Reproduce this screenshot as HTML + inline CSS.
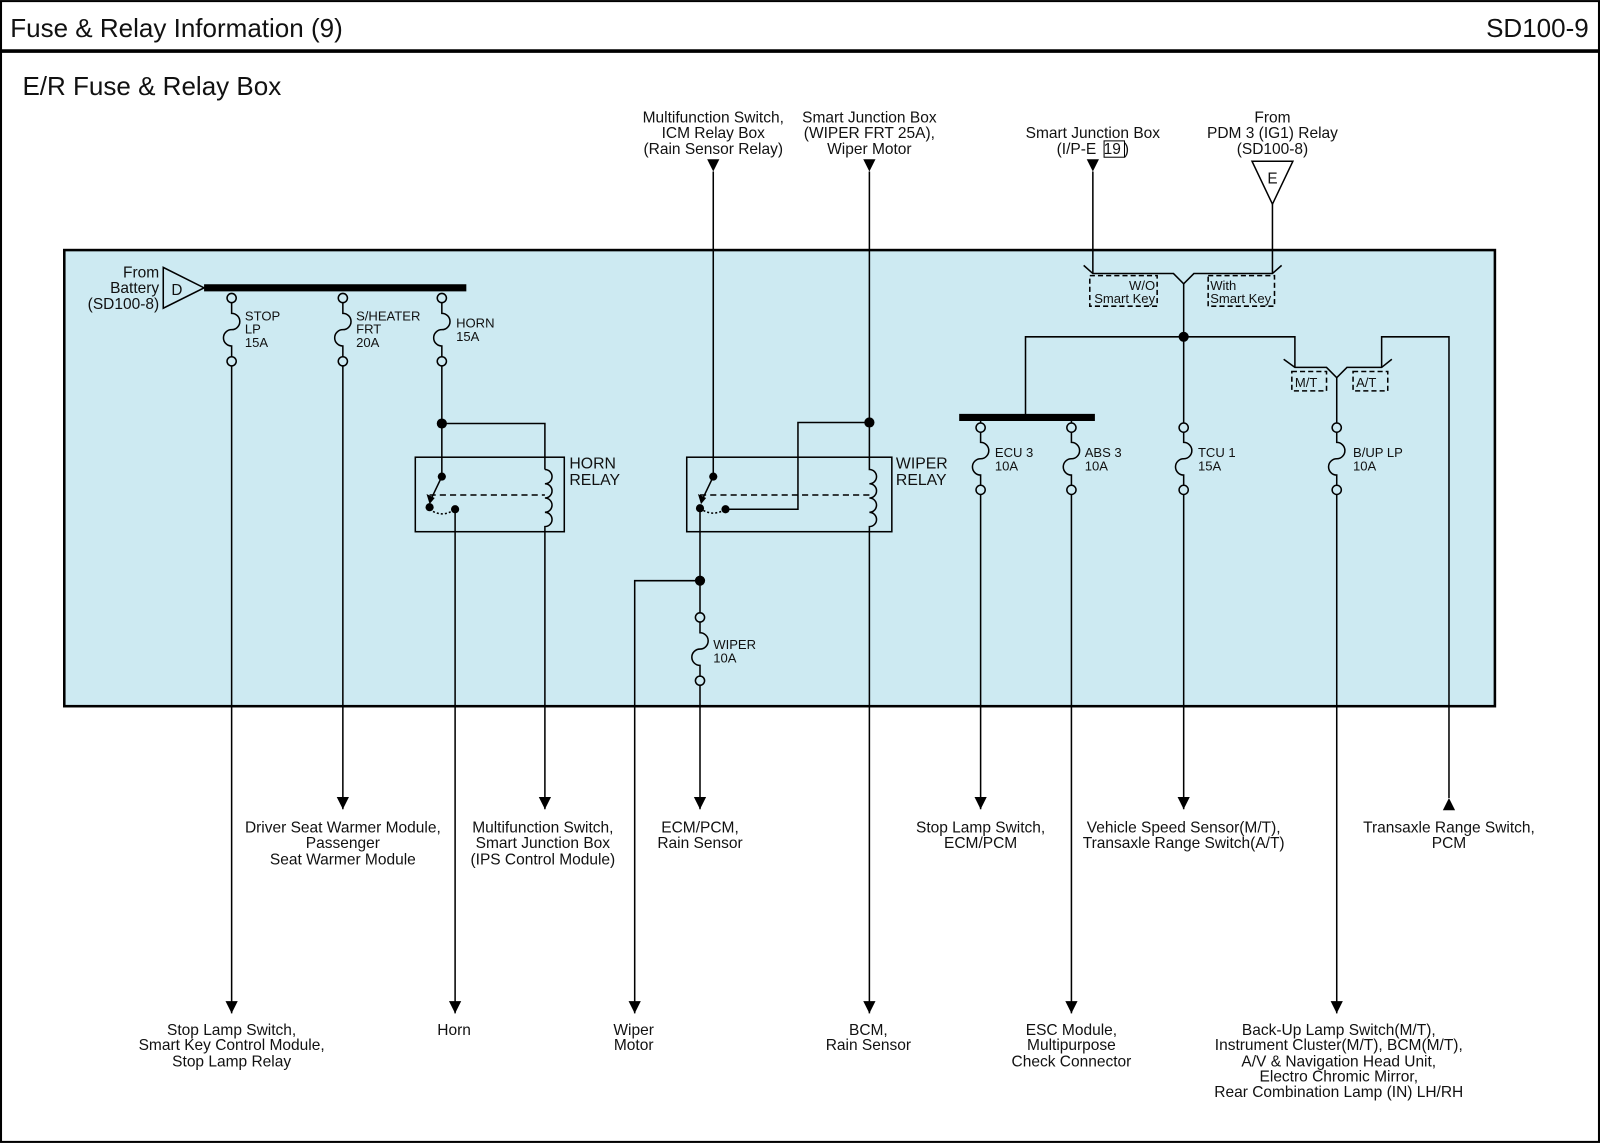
<!DOCTYPE html>
<html><head><meta charset="utf-8"><style>
html,body{margin:0;padding:0;background:#fff}
svg{display:block}
text{font-family:"Liberation Sans",Arial,sans-serif;fill:#111}
.l{font-size:15.2px}
.f{font-size:12.8px}
</style></head><body>
<svg width="1600" height="1143" viewBox="0 0 1568 1120" xmlns="http://www.w3.org/2000/svg">
<rect x="1" y="1" width="1566" height="1118" fill="#fff" stroke="#000" stroke-width="2"/>
<text x="10" y="36" style="font-size:25.5px">Fuse &amp; Relay Information (9)</text>
<text x="1557" y="36" text-anchor="end" style="font-size:25.5px">SD100-9</text>
<line x1="0" y1="50" x2="1568" y2="50" stroke="#000" stroke-width="3.5"/>
<text x="22" y="93" style="font-size:25.5px">E/R Fuse &amp; Relay Box</text>

<rect x="63" y="245" width="1402" height="447" fill="#cdeaf2" stroke="#000" stroke-width="2.5"/>

<g fill="none" stroke="#000" stroke-width="1.5">
<polygon points="160,262 160,302 200,282" fill="#cdeaf2"/>
<circle cx="227" cy="292" r="4.5"/><circle cx="227" cy="354" r="4.5"/>
<path d="M227,296.5 V307 a8,8 0 0 1 0,16 a8,8 0 0 0 0,16 V349.5"/>
<circle cx="336" cy="292" r="4.5"/><circle cx="336" cy="354" r="4.5"/>
<path d="M336,296.5 V307 a8,8 0 0 1 0,16 a8,8 0 0 0 0,16 V349.5"/>
<circle cx="433" cy="292" r="4.5"/><circle cx="433" cy="354" r="4.5"/>
<path d="M433,296.5 V307 a8,8 0 0 1 0,16 a8,8 0 0 0 0,16 V349.5"/>
<circle cx="686" cy="605" r="4.5"/><circle cx="686" cy="667" r="4.5"/>
<path d="M686,609.5 V620 a8,8 0 0 1 0,16 a8,8 0 0 0 0,16 V662.5"/>
<circle cx="961" cy="419" r="4.5"/><circle cx="961" cy="480" r="4.5"/>
<path d="M961,423.5 V433.5 a8,8 0 0 1 0,16 a8,8 0 0 0 0,16 V475.5"/>
<circle cx="1050" cy="419" r="4.5"/><circle cx="1050" cy="480" r="4.5"/>
<path d="M1050,423.5 V433.5 a8,8 0 0 1 0,16 a8,8 0 0 0 0,16 V475.5"/>
<circle cx="1160" cy="419" r="4.5"/><circle cx="1160" cy="480" r="4.5"/>
<path d="M1160,423.5 V433.5 a8,8 0 0 1 0,16 a8,8 0 0 0 0,16 V475.5"/>
<circle cx="1310" cy="419" r="4.5"/><circle cx="1310" cy="480" r="4.5"/>
<path d="M1310,423.5 V433.5 a8,8 0 0 1 0,16 a8,8 0 0 0 0,16 V475.5"/>

<line x1="227" y1="358.5" x2="227" y2="993"/>
<line x1="336" y1="358.5" x2="336" y2="793"/>
<path d="M433,358.5 V467 M433,415 H534 V460"/>
<rect x="407" y="448" width="146" height="73"/>
<path d="M534,460 a7,7 0 0 1 0,14 a7,7 0 0 1 0,14 a7,7 0 0 1 0,14 a7,7 0 0 1 0,14 V793"/>
<path d="M433,467 L422,490"/>
<line x1="421" y1="485" x2="534" y2="485" stroke-dasharray="6,4"/>
<path d="M421,499 Q433,508 446,499" stroke-dasharray="2,2"/>
<line x1="446" y1="499" x2="446" y2="993"/>
<line x1="699" y1="168" x2="699" y2="467"/>
<rect x="673" y="448" width="201" height="73"/>
<path d="M852,168 V460 a7,7 0 0 1 0,14 a7,7 0 0 1 0,14 a7,7 0 0 1 0,14 a7,7 0 0 1 0,14 V993"/>
<path d="M699,467 L688,490"/>
<line x1="686" y1="485" x2="852" y2="485" stroke-dasharray="6,4"/>
<path d="M686,498 Q698,507 711,499" stroke-dasharray="2,2"/>
<path d="M711,499 H782 V414 H852"/>
<path d="M686,498 V600.5 M686,671.5 V793 M686,569 H622 V993"/>
<path d="M1071,168 V268 M1062,260 L1071,268 H1150 L1160,278 L1170,268 H1247 L1256,260 M1247,200 V268"/>
<path d="M1160,278 V414.5 M1160,484.5 V793"/>
<path d="M1160,330 H1005 V409 M1160,330 H1269 V360 M1258,352 L1269,360 H1300 L1310,370 L1320,360 H1354 L1364,352 M1354,360 V330 H1420 V782"/>
<path d="M1310,370 V414.5 M1310,484.5 V993"/>
<path d="M961,409 V414.5 M961,484.5 V793 M1050,409 V414.5 M1050,484.5 V993"/>
<rect x="1068" y="270" width="66" height="30" stroke-dasharray="5,3"/>
<rect x="1184" y="270" width="65" height="30" stroke-dasharray="5,3"/>
<rect x="1266" y="364" width="34" height="19" stroke-dasharray="5,3"/>
<rect x="1326" y="364" width="34" height="19" stroke-dasharray="5,3"/>
<polygon points="1227,158 1267,158 1247,200" fill="#fff"/>
</g>
<line x1="200" y1="282" x2="457" y2="282" stroke="#000" stroke-width="7"/>
<line x1="940" y1="409" x2="1073" y2="409" stroke="#000" stroke-width="7"/>
<g fill="#000">
<circle cx="433" cy="415" r="5"/><circle cx="852" cy="414" r="5"/>
<circle cx="686" cy="569" r="5"/><circle cx="1160" cy="330" r="5"/>
<circle cx="433" cy="467" r="4"/><circle cx="421" cy="497" r="4"/><circle cx="446" cy="499" r="4"/>
<circle cx="699" cy="467" r="4"/><circle cx="686" cy="498" r="4"/><circle cx="711" cy="499" r="4"/>
<polygon points="418,484 421,494 426,488"/>
<polygon points="684,484 687,494 692,488"/>
<polygon points="693,156 705,156 699,168"/>
<polygon points="846,156 858,156 852,168"/>
<polygon points="1065,156 1077,156 1071,168"/>
<polygon points="330,781 342,781 336,793"/>
<polygon points="528,781 540,781 534,793"/>
<polygon points="680,781 692,781 686,793"/>
<polygon points="955,781 967,781 961,793"/>
<polygon points="1154,781 1166,781 1160,793"/>
<polygon points="1414,794 1426,794 1420,782"/>
<polygon points="221,981 233,981 227,993"/>
<polygon points="440,981 452,981 446,993"/>
<polygon points="616,981 628,981 622,993"/>
<polygon points="846,981 858,981 852,993"/>
<polygon points="1044,981 1056,981 1050,993"/>
<polygon points="1304,981 1316,981 1310,993"/>
</g>

<text x="168" y="289" style="font-size:15px">D</text>
<g class="l" text-anchor="end">
<text x="156" y="272">From</text><text x="156" y="287">Battery</text><text x="156" y="303">(SD100-8)</text>
</g>
<g class="f">
<text x="240" y="314">STOP</text><text x="240" y="327">LP</text><text x="240" y="340">15A</text>
<text x="349" y="314">S/HEATER</text><text x="349" y="327">FRT</text><text x="349" y="340">20A</text>
<text x="447" y="321">HORN</text><text x="447" y="334">15A</text>
<text x="699" y="636">WIPER</text><text x="699" y="649">10A</text>
<text x="975" y="448">ECU 3</text><text x="975" y="461">10A</text>
<text x="1063" y="448">ABS 3</text><text x="1063" y="461">10A</text>
<text x="1174" y="448">TCU 1</text><text x="1174" y="461">15A</text>
<text x="1326" y="448">B/UP LP</text><text x="1326" y="461">10A</text>
<text x="1132" y="284" text-anchor="end">W/O</text><text x="1132" y="297" text-anchor="end">Smart Key</text>
<text x="1186" y="284">With</text><text x="1186" y="297">Smart Key</text>
<text x="1269" y="379">M/T</text><text x="1329" y="379">A/T</text>
</g>
<g style="font-size:15.5px">
<text x="558" y="459">HORN</text><text x="558" y="475">RELAY</text>
<text x="878" y="459">WIPER</text><text x="878" y="475">RELAY</text>
</g>
<text x="1247" y="180" text-anchor="middle" style="font-size:15px">E</text>
<g class="l" text-anchor="middle">
<text x="699" y="120">Multifunction Switch,</text><text x="699" y="135">ICM Relay Box</text><text x="699" y="151">(Rain Sensor Relay)</text>
<text x="852" y="120">Smart Junction Box</text><text x="852" y="135">(WIPER FRT 25A),</text><text x="852" y="151">Wiper Motor</text>
<text x="1071" y="135">Smart Junction Box</text><text x="1071" y="151">(I/P-E <tspan dx="3">19</tspan><tspan dx="3">)</tspan></text>
<text x="1247" y="120">From</text><text x="1247" y="135">PDM 3 (IG1) Relay</text><text x="1247" y="151">(SD100-8)</text>

<text x="336" y="816">Driver Seat Warmer Module,</text><text x="336" y="831">Passenger</text><text x="336" y="847">Seat Warmer Module</text>
<text x="532" y="816">Multifunction Switch,</text><text x="532" y="831">Smart Junction Box</text><text x="532" y="847">(IPS Control Module)</text>
<text x="686" y="816">ECM/PCM,</text><text x="686" y="831">Rain Sensor</text>
<text x="961" y="816">Stop Lamp Switch,</text><text x="961" y="831">ECM/PCM</text>
<text x="1160" y="816">Vehicle Speed Sensor(M/T),</text><text x="1160" y="831">Transaxle Range Switch(A/T)</text>
<text x="1420" y="816">Transaxle Range Switch,</text><text x="1420" y="831">PCM</text>

<text x="227" y="1014">Stop Lamp Switch,</text><text x="227" y="1029">Smart Key Control Module,</text><text x="227" y="1045">Stop Lamp Relay</text>
<text x="445" y="1014">Horn</text>
<text x="621" y="1014">Wiper</text><text x="621" y="1029">Motor</text>
<text x="851" y="1014">BCM,</text><text x="851" y="1029">Rain Sensor</text>
<text x="1050" y="1014">ESC Module,</text><text x="1050" y="1029">Multipurpose</text><text x="1050" y="1045">Check Connector</text>
<text x="1312" y="1014">Back-Up Lamp Switch(M/T),</text><text x="1312" y="1029">Instrument Cluster(M/T), BCM(M/T),</text><text x="1312" y="1045">A/V &amp; Navigation Head Unit,</text><text x="1312" y="1060">Electro Chromic Mirror,</text><text x="1312" y="1075">Rear Combination Lamp (IN) LH/RH</text>
</g>
<rect x="1082" y="138" width="20" height="16" fill="none" stroke="#000" stroke-width="1"/>
</svg>
</body></html>
